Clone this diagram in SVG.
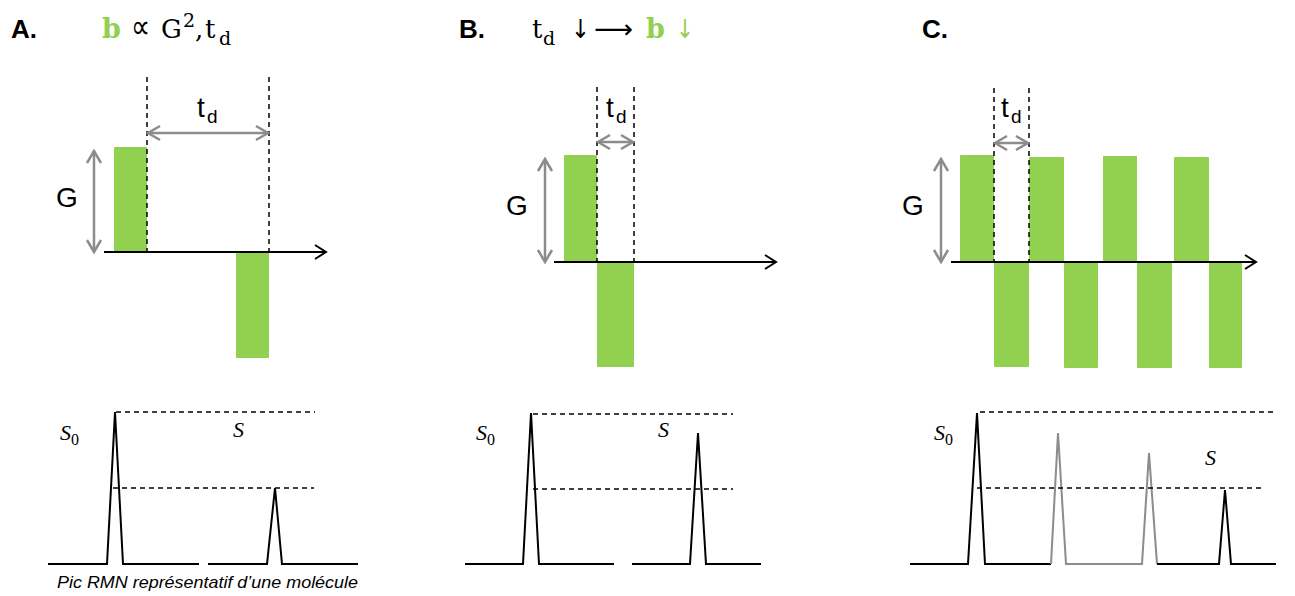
<svg xmlns="http://www.w3.org/2000/svg" width="1295" height="596" viewBox="0 0 1295 596">
  <style>
    .bg { fill: #ffffff; }
    .grad { fill: #92d050; }
    .axis { stroke: #000; stroke-width: 2; fill: none; }
    .dash { stroke: #000; stroke-width: 1.5; stroke-dasharray: 5 4; fill: none; }
    .dim { stroke: #8c8c8c; stroke-width: 2.5; fill: none; }
    .peak { stroke: #000; stroke-width: 2; fill: none; stroke-linejoin: miter; }
    .peakg { stroke: #8c8c8c; stroke-width: 2; fill: none; }
    .hdr { font-family: "Liberation Sans", Arial, sans-serif; font-weight: bold; font-size: 26px; fill: #000; }
    .math { font-family: "DejaVu Serif", "Liberation Serif", serif; font-size: 26px; fill: #000; }
    .arr { font-family: "DejaVu Sans", sans-serif; font-size: 26px; fill: #000; }
    .mathsub { font-family: "DejaVu Serif", "Liberation Serif", serif; font-size: 19px; fill: #000; }
    .bgreen { font-family: "DejaVu Serif", "Liberation Serif", serif; font-weight: bold; font-size: 27px; fill: #92d050; }
    .lbl { font-family: "Liberation Sans", Arial, sans-serif; font-size: 28px; fill: #000; }
    .lblsub { font-family: "Liberation Sans", Arial, sans-serif; font-size: 19px; fill: #000; }
    .sig { font-family: "Liberation Serif", "DejaVu Serif", serif; font-style: italic; font-size: 22px; fill: #000; }
    .sigsub { font-family: "Liberation Serif", "DejaVu Serif", serif; font-size: 16px; fill: #000; }
    .cap { font-family: "Liberation Sans", Arial, sans-serif; font-style: italic; font-size: 17px; fill: #000; }
  </style>
  <defs>
    <marker id="grayhead" markerUnits="userSpaceOnUse" markerWidth="16" markerHeight="18" viewBox="0 0 16 18" refX="14" refY="9" orient="auto-start-reverse">
      <path d="M2,2 L14,9 L2,16" fill="none" stroke="#8c8c8c" stroke-width="2.5"/>
    </marker>
    <marker id="axhead" markerUnits="userSpaceOnUse" markerWidth="14" markerHeight="16" viewBox="0 0 14 16" refX="12" refY="8" orient="auto">
      <path d="M1,1 L12,8 L1,15" fill="none" stroke="#000" stroke-width="2"/>
    </marker>
  </defs>
  <rect class="bg" x="0" y="0" width="1295" height="596"/>

  <!-- Headers -->
  <g id="header-A">
    <text class="hdr" x="11" y="38">A.</text>
    <text class="bgreen" x="102" y="38">b</text>
    <text class="arr" x="131" y="38" style="font-size:34px" textLength="19" lengthAdjust="spacingAndGlyphs">∝</text>
    <text class="math" x="161" y="38">G</text>
    <text class="mathsub" x="183" y="27">2</text>
    <text class="math" x="195" y="38">,</text>
    <text class="math" x="205" y="38">t</text>
    <text class="mathsub" x="219" y="45">d</text>
  </g>
  <g id="header-B">
    <text class="hdr" x="459" y="38">B.</text>
    <text class="math" x="532" y="38">t</text>
    <text class="mathsub" x="543" y="45">d</text>
    <text class="arr" x="571" y="38" textLength="19" lengthAdjust="spacingAndGlyphs">↓</text>
    <text class="arr" x="594" y="38" textLength="39" lengthAdjust="spacingAndGlyphs">⟶</text>
    <text class="bgreen" x="646" y="38">b</text>
    <text class="arr" x="676" y="38" textLength="18" lengthAdjust="spacingAndGlyphs" style="fill:#92d050">↓</text>
  </g>
  <g id="header-C">
    <text class="hdr" x="922" y="38">C.</text>
  </g>

  <!-- Panel A: gradient sequence -->
  <g id="panelA-gradients">
    <rect class="grad" x="114" y="147" width="33" height="105" rx="1"/>
    <rect class="grad" x="236" y="252" width="33" height="106" rx="1"/>
  </g>
  <g id="panelA-labels">
    <text class="lbl" x="56" y="207">G</text>
    <text class="lbl" x="197" y="117">t</text>
    <text class="lblsub" x="207" y="123">d</text>
  </g>

  <!-- Panel B: gradient sequence -->
  <g id="panelB-gradients">
    <rect class="grad" x="564" y="155" width="33" height="107" rx="1"/>
    <rect class="grad" x="597" y="262" width="37" height="105" rx="1"/>
  </g>
  <g id="panelB-labels">
    <text class="lbl" x="506" y="215">G</text>
    <text class="lbl" x="606" y="117">t</text>
    <text class="lblsub" x="616" y="123">d</text>
  </g>

  <!-- Panel C: gradient sequence -->
  <g id="panelC-gradients">
    <rect class="grad" x="960" y="155" width="34" height="107" rx="1"/>
    <rect class="grad" x="1029" y="157" width="35" height="105" rx="1"/>
    <rect class="grad" x="1103" y="156" width="34" height="106" rx="1"/>
    <rect class="grad" x="1174" y="157" width="35" height="105" rx="1"/>
    <rect class="grad" x="994" y="262" width="35" height="105" rx="1"/>
    <rect class="grad" x="1064" y="262" width="34" height="106" rx="1"/>
    <rect class="grad" x="1137" y="262" width="35" height="106" rx="1"/>
    <rect class="grad" x="1209" y="262" width="33" height="106" rx="1"/>
  </g>
  <g id="panelC-labels">
    <text class="lbl" x="902" y="215">G</text>
    <text class="lbl" x="1001" y="117">t</text>
    <text class="lblsub" x="1011" y="123">d</text>
  </g>

  <!-- Spectra labels -->
  <g id="spectraA-labels">
    <text class="sig" x="60" y="440">S</text>
    <text class="sigsub" x="71" y="445">0</text>
    <text class="sig" x="233" y="437">S</text>
    <text class="cap" x="57" y="588" textLength="301" lengthAdjust="spacingAndGlyphs">Pic RMN représentatif d’une molécule</text>
  </g>
  <g id="spectraB-labels">
    <text class="sig" x="476" y="440">S</text>
    <text class="sigsub" x="487" y="445">0</text>
    <text class="sig" x="658" y="437">S</text>
  </g>
  <g id="spectraC-labels">
    <text class="sig" x="934" y="440">S</text>
    <text class="sigsub" x="945" y="445">0</text>
    <text class="sig" x="1205" y="465">S</text>
  </g>

  <!-- Connectors / lines -->
  <g id="connectors">
    <!-- Panel A -->
    <line class="dash" x1="147" y1="77" x2="147" y2="252"/>
    <line class="dash" x1="269" y1="77" x2="269" y2="252"/>
    <line class="axis" x1="104" y1="252" x2="326" y2="252" marker-end="url(#axhead)"/>
    <line class="dim" x1="94" y1="151" x2="94" y2="252" marker-start="url(#grayhead)" marker-end="url(#grayhead)"/>
    <line class="dim" x1="148" y1="133" x2="268" y2="133" marker-start="url(#grayhead)" marker-end="url(#grayhead)"/>

    <!-- Panel B -->
    <line class="dash" x1="597" y1="87" x2="597" y2="262"/>
    <line class="dash" x1="634" y1="87" x2="634" y2="262"/>
    <line class="axis" x1="554" y1="262" x2="776" y2="262" marker-end="url(#axhead)"/>
    <line class="dim" x1="545" y1="159" x2="545" y2="262" marker-start="url(#grayhead)" marker-end="url(#grayhead)"/>
    <line class="dim" x1="598" y1="142" x2="633" y2="142" marker-start="url(#grayhead)" marker-end="url(#grayhead)"/>

    <!-- Panel C -->
    <line class="dash" x1="994" y1="88" x2="994" y2="262"/>
    <line class="dash" x1="1029" y1="88" x2="1029" y2="262"/>
    <line class="axis" x1="951" y1="262" x2="1256" y2="262" marker-end="url(#axhead)"/>
    <line class="dim" x1="941" y1="159" x2="941" y2="262" marker-start="url(#grayhead)" marker-end="url(#grayhead)"/>
    <line class="dim" x1="995" y1="143" x2="1028" y2="143" marker-start="url(#grayhead)" marker-end="url(#grayhead)"/>

    <!-- Spectra A -->
    <polyline class="peak" points="48,564 107,564 115,412 123,564 199,564"/>
    <polyline class="peak" points="208,564 267,564 275,488 282,564 358,564"/>
    <line class="dash" x1="116" y1="412" x2="315" y2="412"/>
    <line class="dash" x1="113" y1="488" x2="314" y2="488"/>

    <!-- Spectra B -->
    <polyline class="peak" points="465,564 523,564 531,413 539,564 614,564"/>
    <polyline class="peak" points="632,564 690,564 698,433 706,564 761,564"/>
    <line class="dash" x1="533" y1="414" x2="733" y2="414"/>
    <line class="dash" x1="533" y1="489" x2="733" y2="489"/>

    <!-- Spectra C -->
    <polyline class="peak" points="910,564 968,564 977,413 985,564 1051,564"/>
    <polyline class="peakg" points="1051,564 1058,433 1066,564 1142,564 1149,453 1157,564"/>
    <polyline class="peak" points="1157,564 1219,564 1225,490 1231,564 1276,564"/>
    <line class="dash" x1="980" y1="412" x2="1277" y2="412"/>
    <line class="dash" x1="977" y1="488" x2="1262" y2="488"/>
  </g>
</svg>
